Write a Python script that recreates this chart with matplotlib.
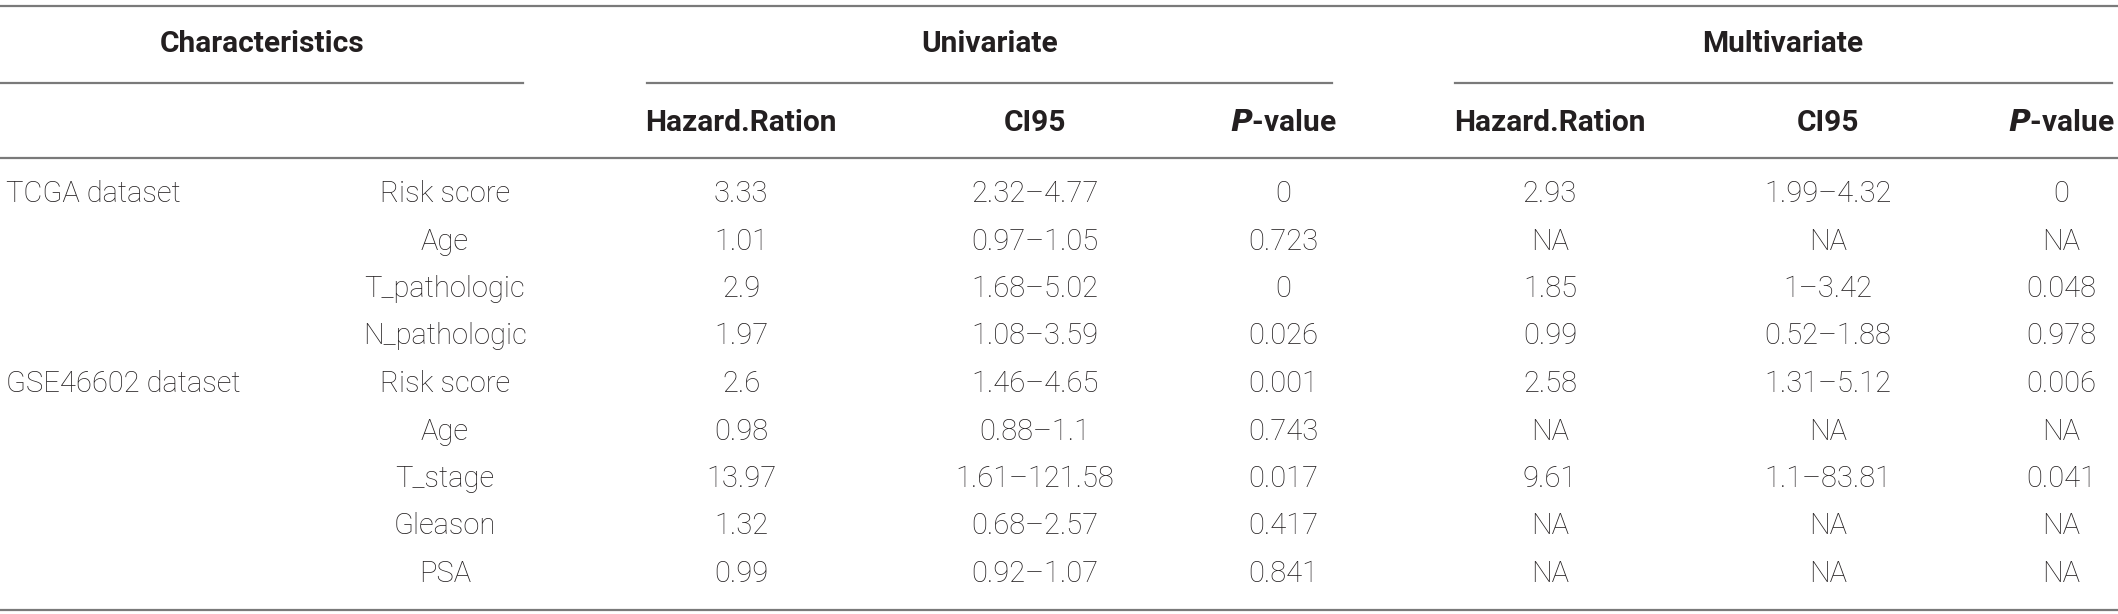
import matplotlib
matplotlib.use("Agg")
import matplotlib.pyplot as plt

# table content
groups = ["TCGA dataset", "", "", "", "GSE46602 dataset", "", "", "", ""]
characteristics = ["Risk score", "Age", "T_pathologic", "N_pathologic",
                   "Risk score", "Age", "T_stage", "Gleason", "PSA"]
uni_hr = ["3.33", "1.01", "2.9", "1.97", "2.6", "0.98", "13.97", "1.32", "0.99"]
uni_ci = ["2.32\u20134.77", "0.97\u20131.05", "1.68\u20135.02", "1.08\u20133.59",
          "1.46\u20134.65", "0.88\u20131.1", "1.61\u2013121.58", "0.68\u20132.57",
          "0.92\u20131.07"]
uni_p = ["0", "0.723", "0", "0.026", "0.001", "0.743", "0.017", "0.417", "0.841"]
multi_hr = ["2.93", "NA", "1.85", "0.99", "2.58", "NA", "9.61", "NA", "NA"]
multi_ci = ["1.99\u20134.32", "NA", "1\u20133.42", "0.52\u20131.88",
            "1.31\u20135.12", "NA", "1.1\u201383.81", "NA", "NA"]
multi_p = ["0", "NA", "0.048", "0.978", "0.006", "NA", "0.041", "NA", "NA"]
sub_headers = ["Hazard.Ration", "CI95", "$\\mathbfit{P}$-value"]

W, H = 2118, 614
fig = plt.figure(figsize=(W / 100, H / 100), dpi=100)
ax = fig.add_axes([0, 0, 1, 1])
ax.set_xlim(0, W)
ax.set_ylim(H, 0)
ax.axis("off")

txt_col = "#231f20"
line_col = "#7a7a7a"
fam = ["Roboto", "DejaVu Sans"]
light = dict(family=fam, fontweight="light", fontsize=21, color=txt_col,
             va="center", ha="center")
bold = dict(family=fam, fontweight="bold", fontsize=21.5, color=txt_col,
            va="center", ha="center")

# rules
ax.plot([0, W], [6, 6], color=line_col, lw=1.6)
for x0, x1 in [(0, 523), (647, 1332), (1455, 2112)]:
    ax.plot([x0, x1], [83, 83], color=line_col, lw=1.6)
ax.plot([0, W], [158, 158], color=line_col, lw=1.6)
ax.plot([0, W], [610, 610], color=line_col, lw=1.6)

# headers
ax.text(262, 44, "Characteristics", **bold)
ax.text(990, 44, "Univariate", **bold)
ax.text(1783, 44, "Multivariate", **bold)
cols_uni = [741, 1035, 1283]
cols_multi = [1550, 1828, 2061]
for x, s in zip(cols_uni + cols_multi, sub_headers * 2):
    ax.text(x, 123, s, **bold)

# body rows
row0, step = 194, 47.5
for i in range(len(characteristics)):
    y = row0 + i * step
    if groups[i]:
        ax.text(6, y, groups[i], **{**light, "ha": "left"})
    ax.text(445, y, characteristics[i], **light)
    vals = [uni_hr[i], uni_ci[i], uni_p[i], multi_hr[i], multi_ci[i], multi_p[i]]
    for x, v in zip(cols_uni + cols_multi, vals):
        ax.text(x, y, v, **light)

fig.savefig("out.png", dpi=100)
